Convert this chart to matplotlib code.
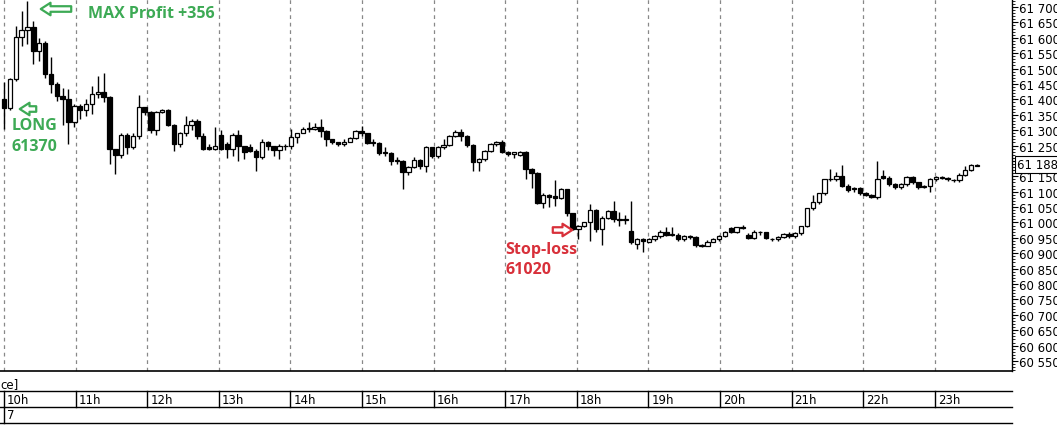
import matplotlib
matplotlib.use("Agg")
import matplotlib.pyplot as plt
from matplotlib.patches import Rectangle
from matplotlib.lines import Line2D

# OHLC candles
opens = [61401,61372,61466,61603,61625,61635,61557,61583,61482,61450,61410,61401,61326,61380,61366,61385,61417,61424,61408,61239,
 61219,61284,61245,61280,61375,61359,61300,61359,61366,61317,61255,61290,61317,61330,61280,61245,61240,61283,61255,61240,
 61283,61247,61245,61232,61212,61261,61248,61236,61250,61247,61278,61290,61304,61303,61310,61297,61272,61262,61255,61262,
 61274,61297,61290,61258,61258,61226,61226,61200,61200,61164,61180,61204,61183,61245,61216,61245,61252,61281,61294,61281,
 61252,61196,61206,61232,61255,61261,61229,61223,61220,61229,61174,61162,61063,61090,61085,61080,61108,61030,60980,60990,
 61000,61040,60980,61015,61036,61010,61008,60973,60930,60945,60938,60945,60956,60970,60960,60960,60945,60956,60952,60925,
 60925,60938,60945,60957,60982,60970,60986,60960,60950,60968,60968,60945,60945,60952,60963,60955,60965,60987,61046,61066,
 61095,61140,61140,61150,61120,61112,61112,61095,61090,61082,61150,61145,61125,61115,61125,61148,61130,61115,61120,61140,
 61146,61146,61137,61137,61155,61170,61185]
closes = [61372,61466,61603,61625,61635,61557,61583,61482,61450,61410,61401,61326,61380,61366,61385,61417,61424,61408,61239,61219,
 61284,61245,61280,61375,61359,61300,61359,61366,61317,61255,61290,61317,61330,61280,61240,61240,61247,61238,61238,61283,
 61247,61228,61232,61212,61261,61248,61236,61248,61247,61278,61290,61304,61304,61310,61297,61272,61262,61255,61262,61274,
 61297,61290,61258,61258,61226,61226,61200,61200,61164,61180,61204,61183,61245,61216,61245,61252,61281,61294,61281,61252,
 61196,61206,61232,61255,61261,61229,61223,61229,61229,61174,61162,61063,61090,61083,61080,61108,61030,60980,60990,61000,
 61040,60980,61015,61036,61010,61008,61012,60936,60945,60941,60945,60956,60970,60960,60960,60945,60956,60952,60927,60925,
 60938,60945,60957,60970,60970,60986,60982,60950,60970,60968,60950,60945,60952,60963,60955,60965,60987,61046,61066,61095,
 61140,61140,61150,61120,61105,61110,61095,61090,61082,61142,61145,61125,61115,61125,61148,61130,61115,61120,61140,61148,
 61146,61140,61137,61155,61170,61186,61188]
highs = [61456,61470,61638,61687,61720,61655,61600,61590,61538,61455,61437,61434,61385,61385,61400,61443,61476,61485,61410,61240,
 61290,61290,61290,61414,61375,61362,61362,61368,61370,61320,61295,61345,61335,61335,61290,61255,61310,61300,61260,61290,
 61300,61250,61255,61240,61271,61265,61250,61255,61255,61303,61292,61310,61326,61323,61336,61300,61272,61262,61271,61278,
 61300,61313,61292,61271,61262,61245,61230,61213,61202,61185,61212,61206,61250,61222,61250,61271,61285,61300,61304,61284,
 61255,61210,61234,61258,61265,61268,61232,61225,61232,61231,61178,61165,61095,61091,61138,61112,61110,61032,60992,61002,
 61060,61045,61022,61040,61070,61035,61025,61070,60950,60948,60950,60960,60975,60985,60985,60965,60960,60960,60955,60930,
 60942,60950,60960,60973,60985,60975,60992,60965,60974,60972,60970,60948,60955,60966,60968,60968,60990,61048,61090,61097,
 61142,61175,61165,61187,61125,61115,61115,61098,61092,61200,61170,61150,61127,61128,61150,61150,61132,61122,61145,61150,
 61150,61148,61140,61162,61185,61190,61190]
lows = [61304,61365,61460,61573,61580,61515,61524,61470,61420,61395,61316,61255,61310,61336,61345,61352,61405,61390,61190,61157,
 61210,61222,61240,61270,61350,61290,61285,61355,61315,61232,61245,61280,61300,61270,61235,61235,61235,61235,61210,61215,
 61200,61205,61230,61167,61205,61235,61216,61206,61235,61240,61258,61290,61295,61300,61278,61248,61255,61250,61250,61260,
 61270,61280,61255,61250,61220,61215,61187,61190,61109,61155,61178,61175,61164,61210,61210,61240,61250,61278,61265,61245,
 61167,61167,61200,61230,61250,61225,61215,61210,61215,61140,61112,61060,61047,61050,61053,61075,61020,60975,60946,60985,
 60940,60970,60927,61010,61000,60990,60995,60930,60915,60904,60935,60940,60950,60955,60955,60940,60940,60945,60920,60920,
 60922,60935,60940,60953,60965,60965,60978,60945,60945,60960,60945,60940,60940,60948,60950,60950,60960,60985,61040,61060,
 61090,61135,61135,61115,61100,61100,61088,61085,61078,61075,61140,61120,61110,61110,61120,61125,61110,61112,61100,61135,
 61140,61135,61132,61133,61152,61168,61182]
hour_labels = ["10h","11h","12h","13h","14h","15h","16h","17h","18h","19h","20h","21h","22h","23h"]
last_price = 61188

W, H = 1057, 427
fig = plt.figure(figsize=(W/100, H/100), dpi=100)
plot_right = 1012
ax = fig.add_axes([0, 1-372/H, plot_right/W, 372/H])
ppu = 0.3078
ymax = 61700 + 8/ppu
ymin = 60550 - 10/ppu
ax.set_ylim(ymin, ymax)

n = len(opens)
spacing = (977-4)/(n-1)
x0 = -4/spacing
ax.set_xlim(x0, x0 + plot_right/spacing)
bw = 0.75
for i in range(n):
    o, c, h, l = opens[i], closes[i], highs[i], lows[i]
    ax.vlines(i, l, h, color='black', lw=1, zorder=2)
    bot = min(o, c); ht = max(abs(c-o), 2.5)
    ax.add_patch(Rectangle((i-bw/2, bot), bw, ht, facecolor='white' if c >= o else 'black',
                           edgecolor='black', lw=0.9, zorder=3))

hour_px = [4 + 71.6*k for k in range(len(hour_labels))]
for px in hour_px:
    ax.axvline(x0 + px/spacing, color='#888888', ls=(0, (3, 3)), lw=0.9, zorder=1)

tfont = ['Liberation Sans Narrow', 'DejaVu Sans']
ax.set_xticks([])
ax.yaxis.tick_right()
ax.set_yticks(range(60550, 61701, 50))
ax.set_yticklabels([f"{v//1000} {v%1000:03d}" for v in range(60550, 61701, 50)],
                   fontsize=8.5, family=tfont)
ax.set_yticks(range(60520, 61721, 10), minor=True)
ax.tick_params(axis='y', which='major', length=4, pad=1, direction='out')
ax.tick_params(axis='y', which='minor', length=2, direction='out')
for s in ['top', 'left']:
    ax.spines[s].set_visible(False)
ax.spines['bottom'].set_linewidth(1.2)
ax.spines['right'].set_linewidth(1.0)
ax.text(1.0 + 5/plot_right, last_price, "61 188", transform=ax.get_yaxis_transform(),
        va='center', ha='left', fontsize=8.5, family=tfont,
        bbox=dict(boxstyle='square,pad=0.15', fc='white', ec='black', lw=0.8), zorder=5)

def fy(py): return 1 - py/H
for py in [392, 408, 424]:
    fig.add_artist(Line2D([0, plot_right/W], [fy(py), fy(py)], color='black', lw=1))
fig.text(0, fy(385), "ce]", fontsize=8.5, va='center', ha='left')
for k, lab in enumerate(hour_labels):
    px = hour_px[k]
    fig.add_artist(Line2D([px/W, px/W], [fy(392), fy(408)], color='black', lw=1))
    fig.text((px+3)/W, fy(401), lab, fontsize=8.5, va='center', ha='left')
fig.add_artist(Line2D([4/W, 4/W], [fy(408), fy(424)], color='black', lw=1))
fig.text(7/W, fy(416), "7", fontsize=8.5, va='center', ha='left')

green = '#3DAA55'
red = '#D8303A'
ap = lambda col: dict(arrowstyle='simple,head_width=0.9,head_length=0.7,tail_width=0.4',
                      fc='white', ec=col, lw=1.6)
def dx(px): return x0 + px/spacing
def dy(py): return ymax - py/ppu
ax.annotate("", xy=(dx(38), dy(10)), xytext=(dx(74), dy(10)), arrowprops=ap(green))
ax.annotate("", xy=(dx(17), dy(110)), xytext=(dx(39), dy(110)), arrowprops=ap(green))
ax.annotate("", xy=(dx(575), dy(231)), xytext=(dx(550), dy(231)), arrowprops=ap(red))
tk = dict(fontsize=11.5, fontweight='bold', family='Open Sans', va='center', ha='left')
ax.text(dx(88), dy(14), "MAX Profit +356", color=green, **tk)
ax.text(dx(12), dy(126), "LONG", color=green, **tk)
ax.text(dx(12), dy(147), "61370", color=green, **tk)
ax.text(dx(505), dy(250), "Stop-loss", color=red, **tk)
ax.text(dx(505), dy(270), "61020", color=red, **tk)

fig.savefig("out.png", dpi=100)
